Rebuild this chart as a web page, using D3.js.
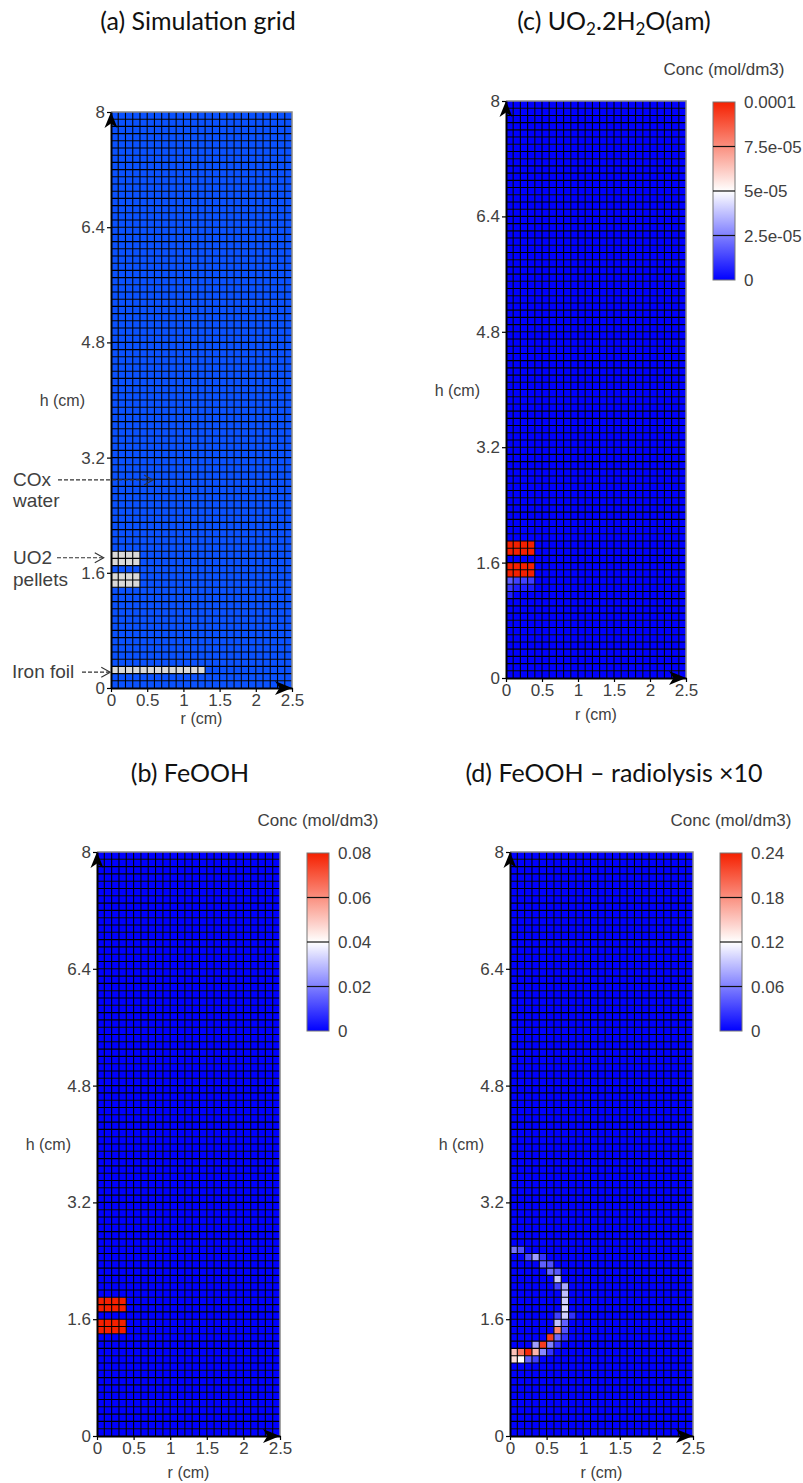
<!DOCTYPE html>
<html><head><meta charset="utf-8">
<script src="https://cdn.jsdelivr.net/npm/d3@7"></script>
<style>body{margin:0;background:#fff} svg{display:block}</style>
</head><body><svg id="chart" width="803" height="1483"></svg>
<script>
// ---------------- DATA ----------------
const nCols = 25, nRows = 80, cellSize = 0.1;     // 0.1 cm cells
const rDomain = [0, 2.5], hDomain = [0, 8];
const xTickValues = [0, 0.5, 1, 1.5, 2, 2.5];
const yTickValues = [0, 1.6, 3.2, 4.8, 6.4, 8];
const yTickLabels = ["0", "1.6", "3.2", "4.8", "6.4", "8"];

// (a) simulation grid materials
const pelletRows = [14, 15, 17, 18];
const pelletCols = [0, 1, 2, 3];
const foilRows = [2];
const foilCols = [0, 1, 2, 3, 4, 5, 6, 7, 8, 9, 10, 11, 12];

// (c) UO2.2H2O(am) concentration (mol/dm3)
const uo2Max = 1e-4;
const uo2PelletConc = 1e-4;
const uo2ExtraCells = [
  [13, 0, 1.8e-5], [13, 1, 1.3e-5], [13, 2, 1.3e-5], [13, 3, 1.2e-5],
  [12, 0, 1.1e-5], [12, 1, 0.6e-5], [12, 2, 0.6e-5], [12, 3, 0.5e-5],
  [11, 0, 0.6e-5]
];
const uo2BarTicks = [0, 2.5e-5, 5e-5, 7.5e-5, 1e-4];
const uo2BarLabels = ["0", "2.5e-05", "5e-05", "7.5e-05", "0.0001"];

// (b) FeOOH
const feoohMax = 0.08;
const feoohPelletConc = 0.08;
const feoohBarTicks = [0, 0.02, 0.04, 0.06, 0.08];
const feoohBarLabels = ["0", "0.02", "0.04", "0.06", "0.08"];

// (d) FeOOH - radiolysis x10 : [row, col, conc]
const radMax = 0.24;
const radCells = [
  [25, 0, 0.053], [25, 1, 0.038],
  [24, 2, 0.036], [24, 3, 0.075], [24, 4, 0.023],
  [23, 4, 0.045], [23, 5, 0.038],
  [22, 5, 0.049], [22, 6, 0.041],
  [21, 6, 0.094],
  [20, 6, 0.030], [20, 7, 0.079],
  [19, 7, 0.090],
  [18, 7, 0.098],
  [17, 7, 0.105],
  [16, 6, 0.030], [16, 7, 0.098], [16, 8, 0.023],
  [15, 6, 0.090], [15, 7, 0.045],
  [14, 6, 0.187], [14, 7, 0.038],
  [13, 5, 0.225], [13, 6, 0.049], [13, 7, 0.023],
  [12, 3, 0.075], [12, 4, 0.225], [12, 5, 0.060], [12, 6, 0.023],
  [11, 0, 0.153], [11, 1, 0.195], [11, 2, 0.235], [11, 3, 0.160], [11, 4, 0.064], [11, 5, 0.023],
  [10, 0, 0.138], [10, 1, 0.120], [10, 2, 0.045], [10, 3, 0.030]
];
const radBarTicks = [0, 0.06, 0.12, 0.18, 0.24];
const radBarLabels = ["0", "0.06", "0.12", "0.18", "0.24"];

// ---------------- DRAWING ----------------
const svg = d3.select("#chart");
const tickFont = "'Liberation Sans', Arial, sans-serif";
const titleFont = "Lato, 'Open Sans', sans-serif";
const gray = "#404040";

const defs = svg.append("defs");

function makeGrid(values) {
  const cells = [];
  for (let r = 0; r < nRows; r++) for (let c = 0; c < nCols; c++) {
    cells.push({row: r, col: c, v: values.get(r + "," + c) || 0});
  }
  return cells;
}

function drawPanel(p) {
  const g = svg.append("g");
  const x = d3.scaleLinear().domain(rDomain).range([p.x0, p.x1]);
  const y = d3.scaleLinear().domain(hDomain).range([p.y1, p.y0]);

  g.append("g").selectAll("rect").data(p.cells).join("rect")
    .attr("x", d => x(d.col * cellSize))
    .attr("y", d => y((d.row + 1) * cellSize))
    .attr("width", d => x((d.col + 1) * cellSize) - x(d.col * cellSize))
    .attr("height", d => y(d.row * cellSize) - y((d.row + 1) * cellSize))
    .attr("fill", d => p.fill(d));

  const gl = g.append("g").attr("stroke", "#000").attr("stroke-width", 1.1);
  gl.selectAll("line.v").data(d3.range(1, nCols)).join("line")
    .attr("x1", i => x(i * cellSize)).attr("x2", i => x(i * cellSize))
    .attr("y1", y(hDomain[0])).attr("y2", y(hDomain[1]));
  gl.selectAll("line.h").data(d3.range(1, nRows)).join("line")
    .attr("y1", i => y(i * cellSize)).attr("y2", i => y(i * cellSize))
    .attr("x1", x(rDomain[0])).attr("x2", x(rDomain[1]));

  g.append("path")
    .attr("d", `M${x(0)},${y(8)}H${x(2.5)}V${y(0)}`)
    .attr("fill", "none").attr("stroke", "#888").attr("stroke-width", 1.5);

  const yAxis = d3.axisLeft(y).tickValues(yTickValues)
    .tickFormat((d, i) => yTickLabels[i]).tickSize(4).tickSizeOuter(0).tickPadding(2);
  const ya = g.append("g").attr("transform", `translate(${p.x0},0)`).call(yAxis);
  const xAxis = d3.axisBottom(x).tickValues(xTickValues)
    .tickFormat(d3.format("")).tickSize(4).tickSizeOuter(0).tickPadding(2);
  const xa = g.append("g").attr("transform", `translate(0,${p.y1})`).call(xAxis);
  [ya, xa].forEach(a => {
    a.select(".domain").attr("stroke", "#000").attr("stroke-width", 2);
    a.selectAll(".tick line").attr("stroke", "#000").attr("stroke-width", 1.2);
    a.selectAll(".tick text").attr("fill", gray).attr("font-size", 17)
      .attr("font-family", tickFont);
  });

  g.append("path")
    .attr("d", `M${x(0)},${y(8)} l-6.5,16 l6.5,-4.5 l6.5,4.5 z`)
    .attr("fill", "#000");
  g.append("path")
    .attr("d", `M${x(2.5)},${y(0)} l-17,-7 l4.5,7 l-4.5,7 z`)
    .attr("fill", "#000");

  g.append("text").attr("x", p.x0 - 26).attr("y", (p.y0 + p.y1) / 2 + 6)
    .attr("text-anchor", "end").attr("font-size", 16).attr("font-family", tickFont)
    .attr("fill", gray).text("h (cm)");
  g.append("text").attr("x", (p.x0 + p.x1) / 2).attr("y", p.y1 + p.rLabelDy)
    .attr("text-anchor", "middle").attr("font-size", 16).attr("font-family", tickFont)
    .attr("fill", gray).text("r (cm)");

  const t = svg.append("text").attr("x", p.titleX).attr("y", p.titleY)
    .attr("text-anchor", "middle").attr("font-size", 25).attr("font-family", titleFont)
    .attr("fill", "#111");
  p.title.forEach(seg => {
    const ts = t.append("tspan").text(seg.t);
    if (seg.sub) ts.attr("font-size", 17).attr("dy", 5);
    if (seg.up) ts.attr("dy", -5);
  });

  if (p.color) {
    const bx = p.x1 + 27, bw = 22, by0 = p.y0 + 1, by1 = p.y0 + 179;
    const cy = d3.scaleLinear().domain([0, p.max]).range([by1, by0]);
    const gid = "grad" + p.id;
    const grad = defs.append("linearGradient").attr("id", gid)
      .attr("x1", 0).attr("y1", 1).attr("x2", 0).attr("y2", 0);
    d3.range(0, 1.0001, 0.05).forEach(f => grad.append("stop")
      .attr("offset", f).attr("stop-color", p.color(f * p.max)));
    g.append("rect").attr("x", bx).attr("y", by0).attr("width", bw).attr("height", by1 - by0)
      .attr("fill", `url(#${gid})`).attr("stroke", "#777").attr("stroke-width", 1);
    g.selectAll("line.sep").data(p.barTicks.slice(1, -1)).join("line")
      .attr("x1", bx).attr("x2", bx + bw).attr("y1", d => cy(d)).attr("y2", d => cy(d))
      .attr("stroke", "#111").attr("stroke-width", 1.2);
    g.selectAll("text.bl").data(p.barTicks).join("text")
      .attr("x", bx + bw + 9).attr("y", d => cy(d) + 6)
      .attr("font-size", 17).attr("font-family", tickFont).attr("fill", gray)
      .text((d, i) => p.barLabels[i]);
    g.append("text").attr("x", bx + bw / 2).attr("y", by0 - 27)
      .attr("text-anchor", "middle").attr("font-size", 17).attr("font-family", tickFont)
      .attr("fill", gray).text("Conc (mol/dm3)");
  }
  return {x, y, g};
}

function cmap(max) {
  return d3.scaleLinear().domain([0, max / 2, max])
    .range(["#0000ff", "#ffffff", "#f52000"]).clamp(true);
}

// (a)
const matMap = new Map();
pelletRows.forEach(r => pelletCols.forEach(c => matMap.set(r + "," + c, 1)));
foilRows.forEach(r => foilCols.forEach(c => matMap.set(r + "," + c, 2)));
const pa = drawPanel({
  id: "a", x0: 111, x1: 292, y0: 112, y1: 688, rLabelDy: 36,
  cells: makeGrid(matMap),
  fill: d => d.v ? "#d9d9d9" : "#0a52ff",
  titleX: 198, titleY: 30,
  title: [{t: "(a) Simulation grid"}]
});

const ann = pa.g.append("g").attr("font-family", tickFont).attr("font-size", 19).attr("fill", gray);
function annArrow(h, rEnd, xStart) {
  const yy = pa.y(h), xe = pa.x(rEnd);
  pa.g.append("line").attr("x1", xStart).attr("x2", xe - 1).attr("y1", yy).attr("y2", yy)
    .attr("stroke", "#333").attr("stroke-width", 1.1).attr("stroke-dasharray", "4,2");
  pa.g.append("path").attr("d", `M${xe - 9},${yy - 5}L${xe},${yy}L${xe - 9},${yy + 5}`)
    .attr("fill", "none").attr("stroke", "#333").attr("stroke-width", 1.1);
}
ann.append("text").attr("x", 13).attr("y", 486).text("COx");
ann.append("text").attr("x", 13).attr("y", 507).text("water");
annArrow(2.89, 0.58, 58);
ann.append("text").attr("x", 13).attr("y", 564).text("UO2");
ann.append("text").attr("x", 13).attr("y", 586).text("pellets");
annArrow(1.81, -0.1, 57);
ann.append("text").attr("x", 12).attr("y", 678).text("Iron foil");
annArrow(0.22, -0.01, 82);

// (c)
const uo2Map = new Map();
pelletRows.forEach(r => pelletCols.forEach(c => uo2Map.set(r + "," + c, uo2PelletConc)));
uo2ExtraCells.forEach(([r, c, v]) => uo2Map.set(r + "," + c, v));
const cC = cmap(uo2Max);
drawPanel({
  id: "c", x0: 506, x1: 686, y0: 101, y1: 678, rLabelDy: 42,
  cells: makeGrid(uo2Map), fill: d => cC(d.v), color: cC, max: uo2Max,
  barTicks: uo2BarTicks, barLabels: uo2BarLabels,
  titleX: 614, titleY: 30,
  title: [{t: "(c) UO"}, {t: "2", sub: true}, {t: ".2H", up: true}, {t: "2", sub: true}, {t: "O(am)", up: true}]
});

// (b)
const feMap = new Map();
pelletRows.forEach(r => pelletCols.forEach(c => feMap.set(r + "," + c, feoohPelletConc)));
const cB = cmap(feoohMax);
drawPanel({
  id: "b", x0: 97, x1: 280, y0: 852, y1: 1436, rLabelDy: 42,
  cells: makeGrid(feMap), fill: d => cB(d.v), color: cB, max: feoohMax,
  barTicks: feoohBarTicks, barLabels: feoohBarLabels,
  titleX: 190, titleY: 782,
  title: [{t: "(b) FeOOH"}]
});

// (d)
const radMap = new Map();
radCells.forEach(([r, c, v]) => radMap.set(r + "," + c, v));
const cD = cmap(radMax);
drawPanel({
  id: "d", x0: 510, x1: 693, y0: 852, y1: 1436, rLabelDy: 42,
  cells: makeGrid(radMap), fill: d => cD(d.v), color: cD, max: radMax,
  barTicks: radBarTicks, barLabels: radBarLabels,
  titleX: 614, titleY: 782,
  title: [{t: "(d) FeOOH \u2013 radiolysis \u00d710"}]
});
</script></body></html>
